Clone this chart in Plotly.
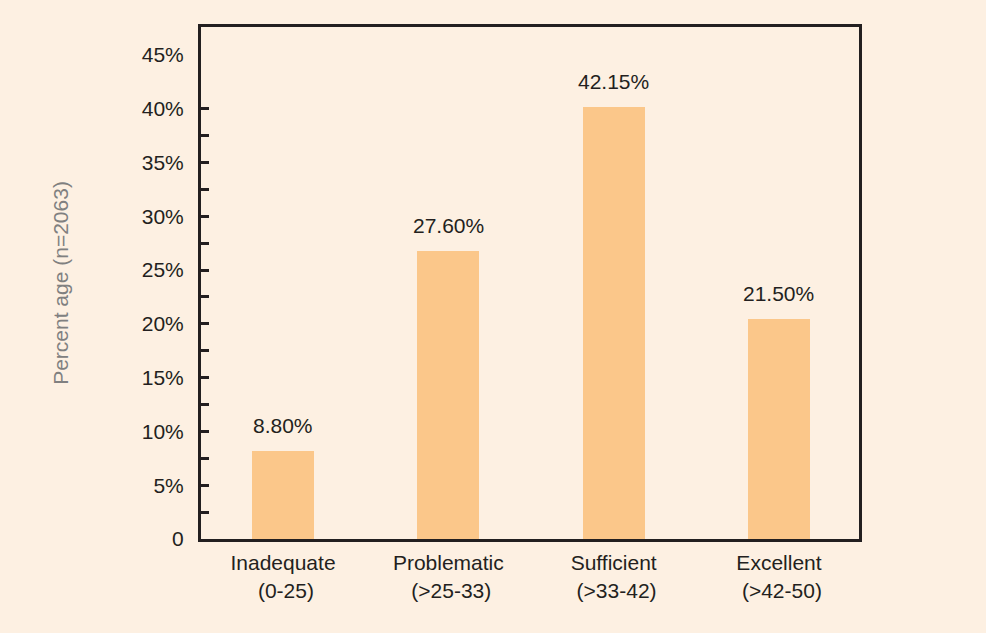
import plotly.graph_objects as go

categories = ["Inadequate<br>\u00a0(0-25)", "Problematic<br>\u00a0(>25-33)",
              "Sufficient<br>\u00a0(>33-42)", "Excellent<br>\u00a0(>42-50)"]
bar_values = [8.2, 26.8, 40.2, 20.5]
bar_labels = ["8.80%", "27.60%", "42.15%", "21.50%"]
y_tick_vals = [0, 5, 10, 15, 20, 25, 30, 35, 40, 45]
y_tick_text = ["0", "5%", "10%", "15%", "20%", "25%", "30%", "35%", "40%", "45%"]
y_mark_vals = [0, 2.5, 5, 7.5, 10, 12.5, 15, 17.5, 20, 22.5, 25, 27.5, 30, 32.5, 35, 37.5, 40]

BG = "#FDF0E2"
BAR = "#FBC78A"
INK = "#231F20"
FONT = "Liberation Sans, Arial, sans-serif"
FS = 21
YR = [0, 47.6]

fig = go.Figure()
fig.add_trace(go.Bar(x=categories, y=bar_values, width=0.375,
                     marker=dict(color=BAR, line=dict(width=0)),
                     hoverinfo="skip", showlegend=False))
# invisible trace to activate tick axis
fig.add_trace(go.Scatter(x=[categories[0]], y=[0], yaxis="y2", mode="markers",
                         marker=dict(opacity=0), showlegend=False, hoverinfo="skip"))

for c, v, t in zip(categories, bar_values, bar_labels):
    fig.add_annotation(x=c, y=v, text=t, showarrow=False, yanchor="bottom",
                       yshift=12, font=dict(size=FS, color=INK, family=FONT))

fig.update_layout(
    width=986, height=633,
    paper_bgcolor=BG, plot_bgcolor=BG,
    margin=dict(l=201, r=127, t=27, b=94),
    font=dict(family=FONT, size=FS, color=INK),
    bargap=0,
    xaxis=dict(range=[-0.496, 3.484], showline=True, linecolor=INK, linewidth=3,
               mirror=True, ticks="", showgrid=False, zeroline=False,
               tickfont=dict(size=FS, color=INK), ticklabelstandoff=3),
    yaxis=dict(range=YR, tickmode="array", tickvals=y_tick_vals, ticktext=y_tick_text,
               ticks="", showline=True, linecolor=INK, linewidth=3, mirror=True,
               showgrid=False, zeroline=False, ticklabelstandoff=10,
               tickfont=dict(size=FS, color=INK),
               title=dict(text="Percent age (n=2063)", standoff=68,
                          font=dict(size=FS, color="#808080"))),
    yaxis2=dict(range=YR, overlaying="y", side="left", tickmode="array",
                tickvals=y_mark_vals, showticklabels=False, ticks="inside",
                ticklen=8, tickwidth=2.5, tickcolor=INK, showgrid=False,
                zeroline=False, showline=False),
)

fig.write_html("out.html", config={"displayModeBar": False},
               post_script="document.body.style.margin='0';document.body.style.background='" + BG + "';")
